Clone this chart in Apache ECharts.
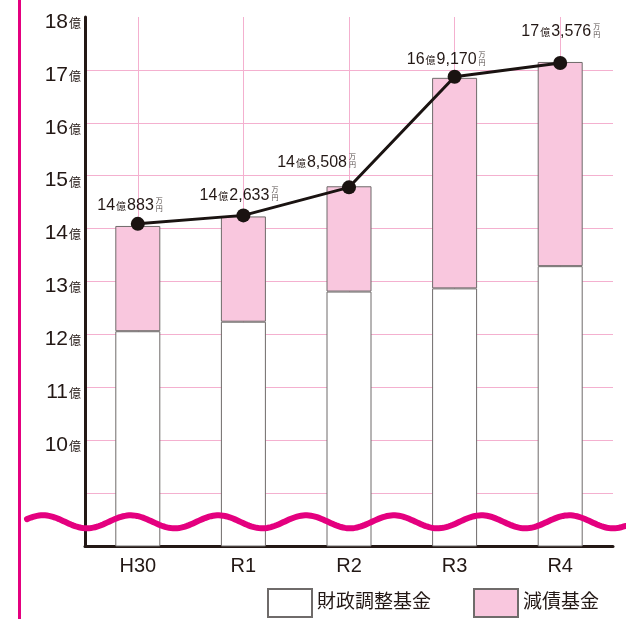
<!DOCTYPE html>
<html>
<head>
<meta charset="utf-8">
<script src="https://cdn.jsdelivr.net/npm/echarts@6/dist/echarts.min.js"></script>
<style>
  html, body { margin: 0; padding: 0; background: #fff; }
  #chart { width: 626px; height: 619px; }
</style>
</head>
<body>
<div id="chart"></div>
<script>
// 年度
const years = ['H30', 'R1', 'R2', 'R3', 'R4']
// 財政調整基金（億円, 図から読み取り）
const adjustFund = [12.06, 12.24, 12.81, 12.87, 13.29]
// 減債基金（億円）
const debtFund = [1.99, 1.99, 1.99, 3.98, 3.86]
// 合計（折れ線）
const totals = [14.09, 14.25, 14.78, 16.87, 17.13]
// ラベル
const totalLabels = ['14億883', '14億2,633', '14億8,508', '16億9,170', '17億3,576']
// y軸
const yMin = 8
const yMax = 18
const yStep = 1

// ラベル位置（点からのずれ）
const labelOffsets = [[16, -18], [26, -20], [-2, -25], [22, -17], [31, -31]]

const FONT = "'Liberation Sans', 'Noto Sans CJK JP', sans-serif"
const INK = '#231815'
const PINK = '#f9c7de'
const BORDER = '#6f6b6a'
const GRID_PINK = '#f4b0cf'
const MAGENTA = '#e4007f'

const mChart = echarts.init(document.getElementById('chart'))

// 波線（省略記号）
const wave = []
for (let x = 27; x <= 626; x += 2) {
  wave.push([x, 521.8 - 6.5 * Math.cos((2 * Math.PI * (x - 43)) / 87.7)])
}

const richLabel = (s) => {
  const [a, b] = s.split('億')
  return `{n|${a}}{o|億}{n|${b}}`
}

const options = {
  animation: false,
  textStyle: { fontFamily: FONT, color: INK },
  legend: {
    data: ['財政調整基金', '減債基金'],
    left: 267,
    top: 588,
    padding: 0,
    icon: 'rect',
    itemWidth: 44,
    itemHeight: 28,
    itemGap: 42,
    textStyle: { fontSize: 19, color: INK, fontFamily: FONT }
  },
  grid: { left: 85, right: 13, top: 17, bottom: 73 },
  xAxis: {
    type: 'category',
    data: years,
    axisLine: { lineStyle: { color: INK, width: 3 } },
    axisTick: { show: false },
    axisLabel: { fontSize: 20, color: INK, margin: 10, fontFamily: FONT },
    splitLine: { show: false }
  },
  yAxis: {
    type: 'value',
    min: yMin,
    max: yMax,
    interval: yStep,
    axisLine: { show: true, lineStyle: { color: INK, width: 3 } },
    axisTick: { show: false },
    axisLabel: {
      margin: 4,
      padding: [10, 0, 0, 0],
      formatter: (v) => (v < 10 ? '' : `{n|${v}}{o|億}`),
      rich: {
        n: { fontSize: 21, color: INK, fontFamily: FONT },
        o: { fontSize: 12, color: INK, fontFamily: FONT, padding: [5, 0, 0, 1] }
      }
    },
    splitLine: {
      show: true,
      showMaxLine: false,
      showMinLine: false,
      lineStyle: { color: GRID_PINK, width: 1 }
    }
  },
  series: [
    {
      name: '財政調整基金',
      type: 'bar',
      stack: 'total',
      barWidth: 45,
      z: 2,
      itemStyle: { color: '#ffffff', borderColor: BORDER, borderWidth: 1 },
      data: adjustFund,
      // 縦のグリッド線（カテゴリ中央）
      markLine: {
        silent: true,
        z: 1,
        symbol: 'none',
        label: { show: false },
        lineStyle: { color: GRID_PINK, type: 'solid', width: 1 },
        data: years.map((y) => ({ xAxis: y }))
      }
    },
    {
      name: '減債基金',
      type: 'bar',
      stack: 'total',
      barWidth: 45,
      z: 2,
      itemStyle: { color: PINK, borderColor: BORDER, borderWidth: 1 },
      data: debtFund
    },
    {
      name: '合計',
      type: 'line',
      z: 6,
      symbol: 'circle',
      symbolSize: 14,
      itemStyle: { color: '#1a1311' },
      lineStyle: { color: '#1a1311', width: 3 },
      label: {
        show: true,
        position: 'inside',
        align: 'right',
        verticalAlign: 'middle',
        formatter: (p) => richLabel(totalLabels[p.dataIndex]),
        rich: {
          n: { fontSize: 16, color: INK, fontFamily: FONT },
          o: { fontSize: 10, color: INK, fontFamily: FONT, padding: [3, 1, 0, 1] }
        }
      },
      data: totals.map((v, i) => ({ value: v, label: { offset: labelOffsets[i] } }))
    },
    {
      // 「万円」の縦書き
      name: '単位',
      type: 'scatter',
      z: 6,
      symbolSize: 1,
      itemStyle: { color: 'rgba(0,0,0,0)' },
      label: {
        show: true,
        position: 'inside',
        align: 'left',
        verticalAlign: 'middle',
        formatter: '万\n円',
        fontSize: 7,
        lineHeight: 8,
        color: INK,
        fontFamily: FONT
      },
      data: totals.map((v, i) => ({
        value: v,
        label: { offset: [labelOffsets[i][0] + 2, labelOffsets[i][1] - 1] }
      }))
    }
  ],
  graphic: [
    {
      type: 'rect',
      z: 100,
      silent: true,
      shape: { x: 18, y: 0, width: 3, height: 619 },
      style: { fill: MAGENTA }
    },
    {
      type: 'polyline',
      z: 100,
      silent: true,
      shape: { points: wave },
      style: { stroke: MAGENTA, lineWidth: 6, fill: null, lineCap: 'round' }
    }
  ]
}

mChart.setOption(options)
window.addEventListener('resize', () => {
  mChart.resize()
})
</script>
</body>
</html>
